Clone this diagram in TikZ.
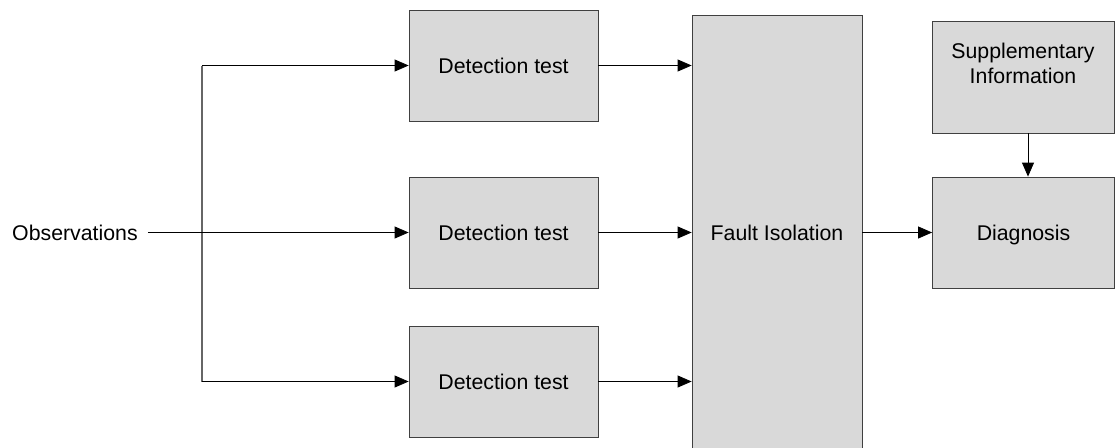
\documentclass[tikz,border=0pt]{standalone}
\usepackage{fontspec}
\setmainfont{Liberation Sans}
\usetikzlibrary{arrows.meta,shadows}
\begin{document}
\begin{tikzpicture}[x=1pt,y=-1pt,
  font=\fontsize{21.3}{25.5}\selectfont,
  blk/.style={draw=black!75,line width=0.8pt,fill=gray!30,inner sep=0pt,
    text height=15.3pt,text depth=0pt,
    drop shadow={shadow xshift=1pt,shadow yshift=-1pt,fill=gray!80,opacity=1}},
  flow/.style={draw=black,line width=0.8pt,-{Triangle[length=14pt,width=12pt]}},
  branch/.style={draw=black!60,line width=1.3pt}]
\useasboundingbox (0,0) rectangle (1115,447);
\clip (0,0) rectangle (1115,447);

% input label
\node[anchor=west,inner sep=0pt,text height=15.3pt,text depth=0pt] (obs) at (12,232.5) {Observations};

% detection tests
\node[blk,minimum width=189pt,minimum height=111pt] (d1) at (503.5,65.5) {Detection test};
\node[blk,minimum width=189pt,minimum height=111pt] (d2) at (503.5,232.5) {Detection test};
\node[blk,minimum width=189pt,minimum height=111pt] (d3) at (503.5,381.5) {Detection test};

% isolation block runs off the lower edge
\node[blk,minimum width=170pt,minimum height=435pt] (fi) at (777,232.5) {Fault Isolation};

% right column
\node[blk,minimum width=182pt,minimum height=112pt,
  label={[anchor=north,inner sep=0pt,align=center,yshift=-22pt,
          font=\fontsize{21.3}{25}\selectfont]north:Supplementary\\Information}] (sup) at (1023,77) {};
\node[blk,minimum width=182pt,minimum height=111pt] (dg) at (1023.5,232.5) {Diagnosis};

% fan-out of the observations
\coordinate (ja) at (202,65.5);
\coordinate (jb) at (202,381.5);
\draw[branch] (ja) -- (jb);
\draw[flow] ([xshift=10pt]obs.east) -- (d2.west);
\draw[flow] (ja) -- (d1.west);
\draw[flow] (jb) -- (d3.west);

% tests into isolation
\draw[flow] (d1.east) -- (d1.east -| fi.west);
\draw[flow] (d2.east) -- (d2.east -| fi.west);
\draw[flow] (d3.east) -- (d3.east -| fi.west);

% isolation and side information into diagnosis
\draw[flow] (fi.east |- dg.west) -- (dg.west);
\draw[flow] ([xshift=5pt]sup.south) -- ([xshift=5pt]sup.south |- dg.north);
\end{tikzpicture}
\end{document}
